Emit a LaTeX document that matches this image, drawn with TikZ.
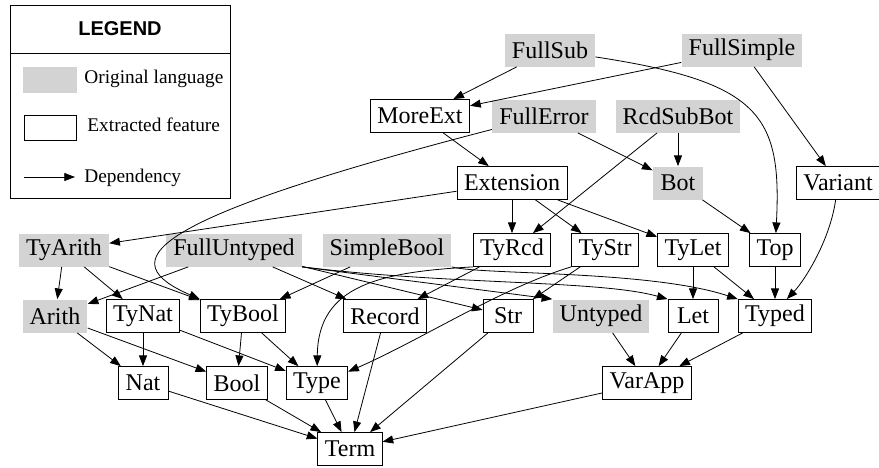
\documentclass[tikz,border=0pt]{standalone}
\usepackage{fontspec}
\setmainfont{Liberation Serif}
\setsansfont{Liberation Sans}
\usetikzlibrary{arrows.meta}
\definecolor{lgray}{RGB}{211,211,211}

\begin{document}
\begin{tikzpicture}[>={Triangle[length=8pt,width=6pt]},x=0.75pt,y=-0.75pt,line width=0.6pt,
  origbox/.style={fill=lgray,minimum height=24.75pt,minimum width=37.5pt,inner xsep=5.25pt,inner ysep=2pt,font=\fontsize{18}{20}\selectfont},
  featbox/.style={origbox,fill=white,draw}]

\useasboundingbox (0,0) rectangle (879,468);

\draw (10,5) rectangle (230,198);
\draw (10,53) -- (230,53);
\node(lgd) at (120,29)[font=\sffamily\bfseries\fontsize{15}{17}\selectfont]{LEGEND};
\node(swo) at (50,80)[fill=lgray,minimum width=40.5pt,minimum height=19.5pt,inner sep=0pt]{};
\node(swf) at (50,128)[draw,minimum width=39pt,minimum height=19pt,inner sep=0pt]{};
\node(lo) at (84,83)[anchor=base west,inner sep=0pt,font=\fontsize{14.5}{16}\selectfont]{Original language};
\node(lf) at (87,131)[anchor=base west,inner sep=0pt,font=\fontsize{14.5}{16}\selectfont]{Extracted feature};
\node(ld) at (84,182)[anchor=base west,inner sep=0pt,font=\fontsize{14.5}{16}\selectfont]{Dependency};
\coordinate(d0) at (24,177);
\coordinate(d1) at (75,177);
\draw[->] (d0) -- (d1);

\node(fsub) at (550,50)[origbox]{FullSub};
\node(fsim) at (742,50)[origbox]{FullSimple};
\node(mext) at (420,116)[featbox]{MoreExt};
\node(ferr) at (544,116)[origbox]{FullError};
\node(rsb) at (678,116)[origbox]{RcdSubBot};
\node(ext) at (512,183)[featbox]{Extension};
\node(bot) at (678,183)[origbox]{Bot};
\node(var) at (838,183)[featbox]{Variant};
\node(tyar) at (64,250)[origbox]{TyArith};
\node(funt) at (234,250)[origbox]{FullUntyped};
\node(sbool) at (387,250)[origbox]{SimpleBool};
\node(tyrcd) at (512,250)[featbox]{TyRcd};
\node(tystr) at (605,250)[featbox]{TyStr};
\node(tylet) at (693,250)[featbox]{TyLet};
\node(top) at (775,250)[featbox]{Top};
\node(arith) at (55,316)[origbox]{Arith};
\node(tynat) at (143,316)[featbox]{TyNat};
\node(tybool) at (243,316)[featbox]{TyBool};
\node(rcd) at (385,316)[featbox]{Record};
\node(str) at (508,316)[featbox]{Str};
\node(unt) at (601,316)[origbox]{Untyped};
\node(let) at (693,316)[featbox]{Let};
\node(typed) at (775,316)[featbox]{Typed};
\node(nat) at (143,383)[featbox]{Nat};
\node(bool) at (237,383)[featbox]{Bool};
\node(type) at (317,383)[featbox]{Type};
\node(vapp) at (647,383)[featbox]{VarApp};
\node(term) at (350,449)[featbox]{Term};

\draw[->] (fsub) -- (mext);
\draw[->] (fsim) -- (mext);
\draw[->] (fsub) .. controls (760,82) and (782,115) .. (top);
\draw[->] (fsim) -- (var);
\draw[->] (mext) -- (ext);
\draw[->] (ferr) -- (bot);
\draw[->] (ferr) .. controls (135,222) and (115,262) .. (tybool.north west);
\draw[->] (rsb) -- (bot);
\draw[->] (rsb) -- (tyrcd);
\draw[->] (ext) -- (tyar);
\draw[->] (ext) -- (tyrcd);
\draw[->] (ext) -- (tystr);
\draw[->] (ext) -- (tylet);
\draw[->] (bot) -- (top);
\draw[->] (var) .. controls (830,240) and (805,280) .. (typed.55);
\draw[->] (tyar) -- (arith);
\draw[->] (tyar) -- (tynat);
\draw[->] (tyar) -- (tybool);
\draw[->] (funt) -- (arith);
\draw[->] (funt) -- (rcd);
\draw[->] (funt) -- (str);
\draw[->] (funt.south east) -- (unt.north west);
\draw[->] (funt.south east) .. controls (450,285) and (600,280) .. (let.north west);
\draw[->] (sbool) -- (tybool);
\draw[->] (sbool.south east) .. controls (480,275) and (650,270) .. (typed.north west);
\draw[->] (tyrcd) -- (rcd);
\draw[->] (tyrcd.south west) .. controls (380,272) and (318,285) .. (type);
\draw[->] (tystr) -- (str);
\draw[->] (tystr.south west) .. controls (501,288) and (419,341) .. (type.20);
\draw[->] (tylet) -- (let);
\draw[->] (tylet) -- (typed);
\draw[->] (top) -- (typed);
\draw[->] (arith) -- (nat);
\draw[->] (arith) -- (bool);
\draw[->] (tynat) -- (nat);
\draw[->] (tynat) -- (type);
\draw[->] (tybool) -- (bool);
\draw[->] (tybool) -- (type);
\draw[->] (rcd) -- (term);
\draw[->] (str) -- (term);
\draw[->] (unt) -- (vapp);
\draw[->] (let) -- (vapp);
\draw[->] (typed) -- (vapp);
\draw[->] (vapp) -- (term);
\draw[->] (type) -- (term);
\draw[->] (bool) -- (term);
\draw[->] (nat) -- (term);

\end{tikzpicture}
\end{document}
